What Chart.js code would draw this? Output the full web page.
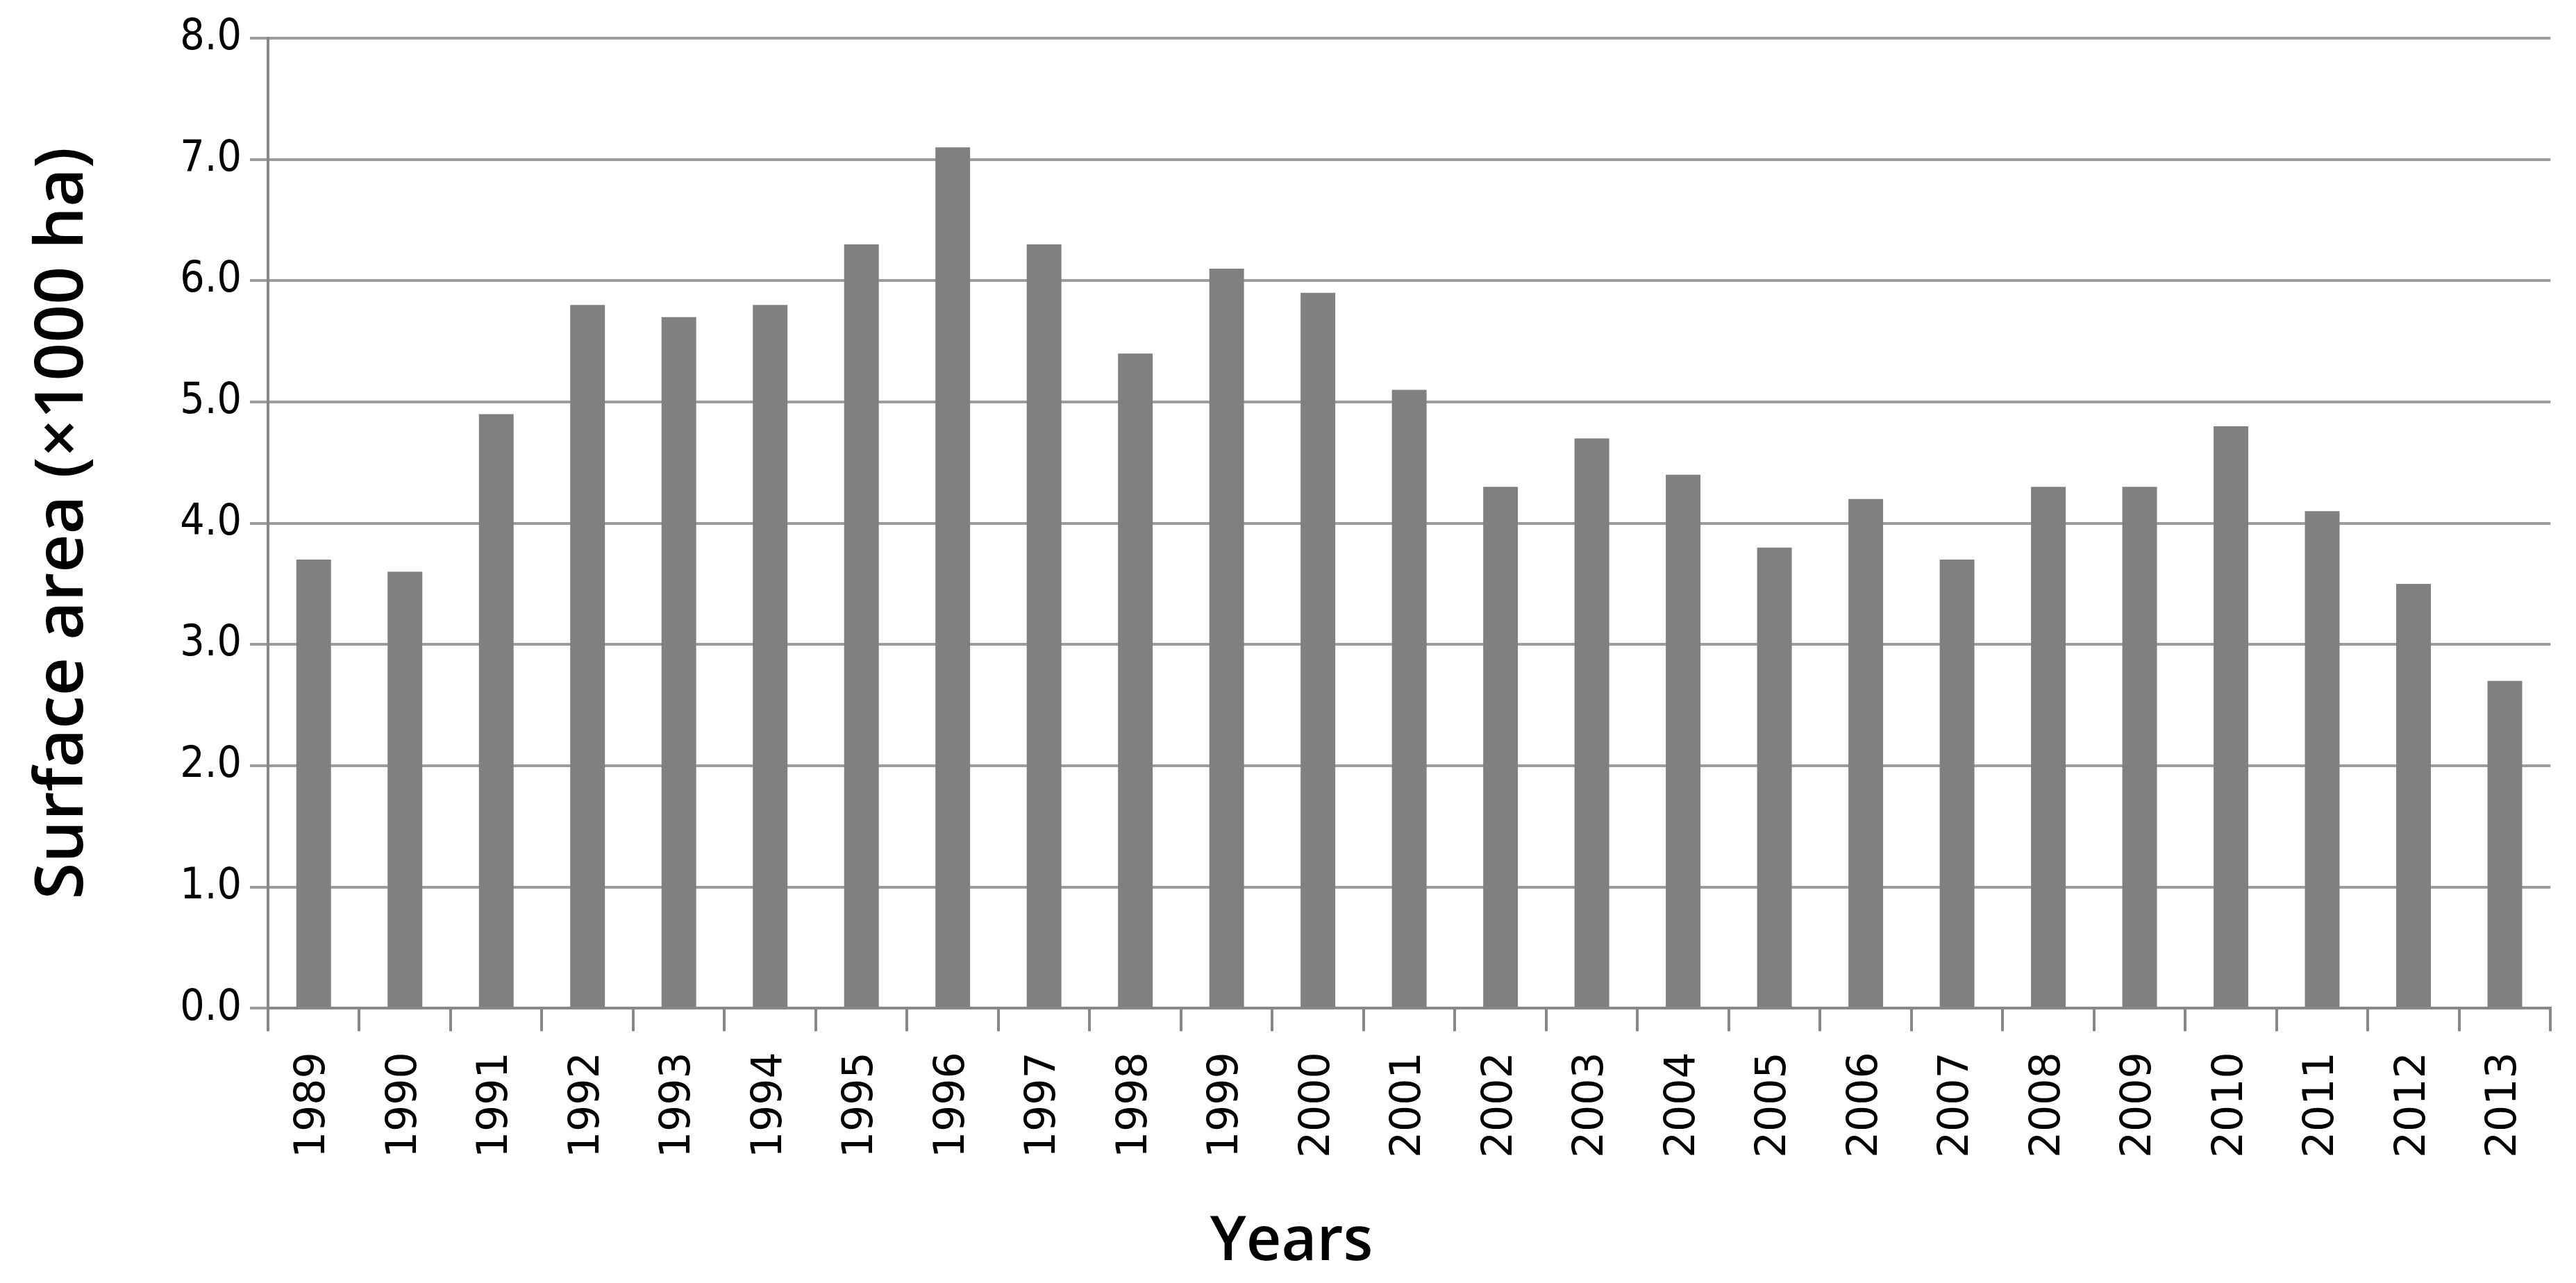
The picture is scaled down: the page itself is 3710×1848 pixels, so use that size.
<!DOCTYPE html>
<html>
<head>
<meta charset="utf-8">
<script src="https://cdn.jsdelivr.net/npm/chart.js@4"></script>
<style>
  html, body { margin: 0; padding: 0; background: #fff; }
  #wrap { width: 3710px; height: 1848px; }
</style>
</head>
<body>
<div id="wrap"><canvas id="surface-chart"></canvas></div>
<script>
// data
const years = ['1989', '1990', '1991', '1992', '1993', '1994', '1995', '1996', '1997', '1998',
               '1999', '2000', '2001', '2002', '2003', '2004', '2005', '2006', '2007', '2008',
               '2009', '2010', '2011', '2012', '2013'];
const surfaceArea = [3.7, 3.6, 4.9, 5.8, 5.7, 5.8, 6.3, 7.1, 6.3, 5.4,
                     6.1, 5.9, 5.1, 4.3, 4.7, 4.4, 3.8, 4.2, 3.7, 4.3,
                     4.3, 4.8, 4.1, 3.5, 2.7];
const yTicks = [0, 1, 2, 3, 4, 5, 6, 7, 8];

const axisGrey = '#888888';
const gridGrey = '#9c9c9c';

new Chart(document.getElementById('surface-chart'), {
    type: 'bar',
    data: {
        labels: years,
        datasets: [{
            data: surfaceArea,
            backgroundColor: '#808080',
            borderWidth: 0,
            barPercentage: 0.38,
            categoryPercentage: 1.0
        }]
    },
    options: {
        responsive: true,
        maintainAspectRatio: false,
        animation: false,
        // left padding keeps the bottom title centred on the whole figure
        layout: { padding: { top: 55, right: 24, left: 34, bottom: 0 } },
        plugins: {
            legend: { display: false },
            tooltip: { enabled: false },
            title: {
                display: true,
                position: 'bottom',
                text: 'Years',
                color: '#000',
                font: { family: 'Open Sans', size: 88, weight: '600', lineHeight: 1.2 },
                padding: { top: 0, bottom: 5 }
            }
        },
        scales: {
            x: {
                afterFit: (scale) => { scale.height = 285; },
                grid: {
                    drawOnChartArea: false,
                    drawTicks: true,
                    tickLength: 33,
                    color: axisGrey,
                    lineWidth: 4
                },
                border: { display: true, color: axisGrey, width: 4 },
                ticks: {
                    color: '#000',
                    font: { family: 'DejaVu Sans', size: 60 },
                    minRotation: 90,
                    maxRotation: 90,
                    autoSkip: false,
                    padding: 30
                }
            },
            y: {
                min: 0,
                max: 8,
                afterFit: (scale) => { scale.width = 352; },
                afterBuildTicks: (scale) => { scale.ticks = yTicks.map(v => ({ value: v })); },
                grid: {
                    color: gridGrey,
                    lineWidth: 4,
                    drawTicks: true,
                    tickLength: 26
                },
                border: { display: true, color: axisGrey, width: 4 },
                ticks: {
                    color: '#000',
                    font: { family: 'DejaVu Sans Condensed', size: 62 },
                    padding: 12,
                    callback: (v) => Number(v).toFixed(1)
                },
                title: {
                    display: true,
                    text: 'Surface area (\u00d71000 ha)',
                    color: '#000',
                    font: { family: 'Open Sans', size: 96, weight: '600', lineHeight: 1.2 },
                    padding: { top: 0, bottom: 0 }
                }
            }
        }
    }
});
</script>
</body>
</html>
